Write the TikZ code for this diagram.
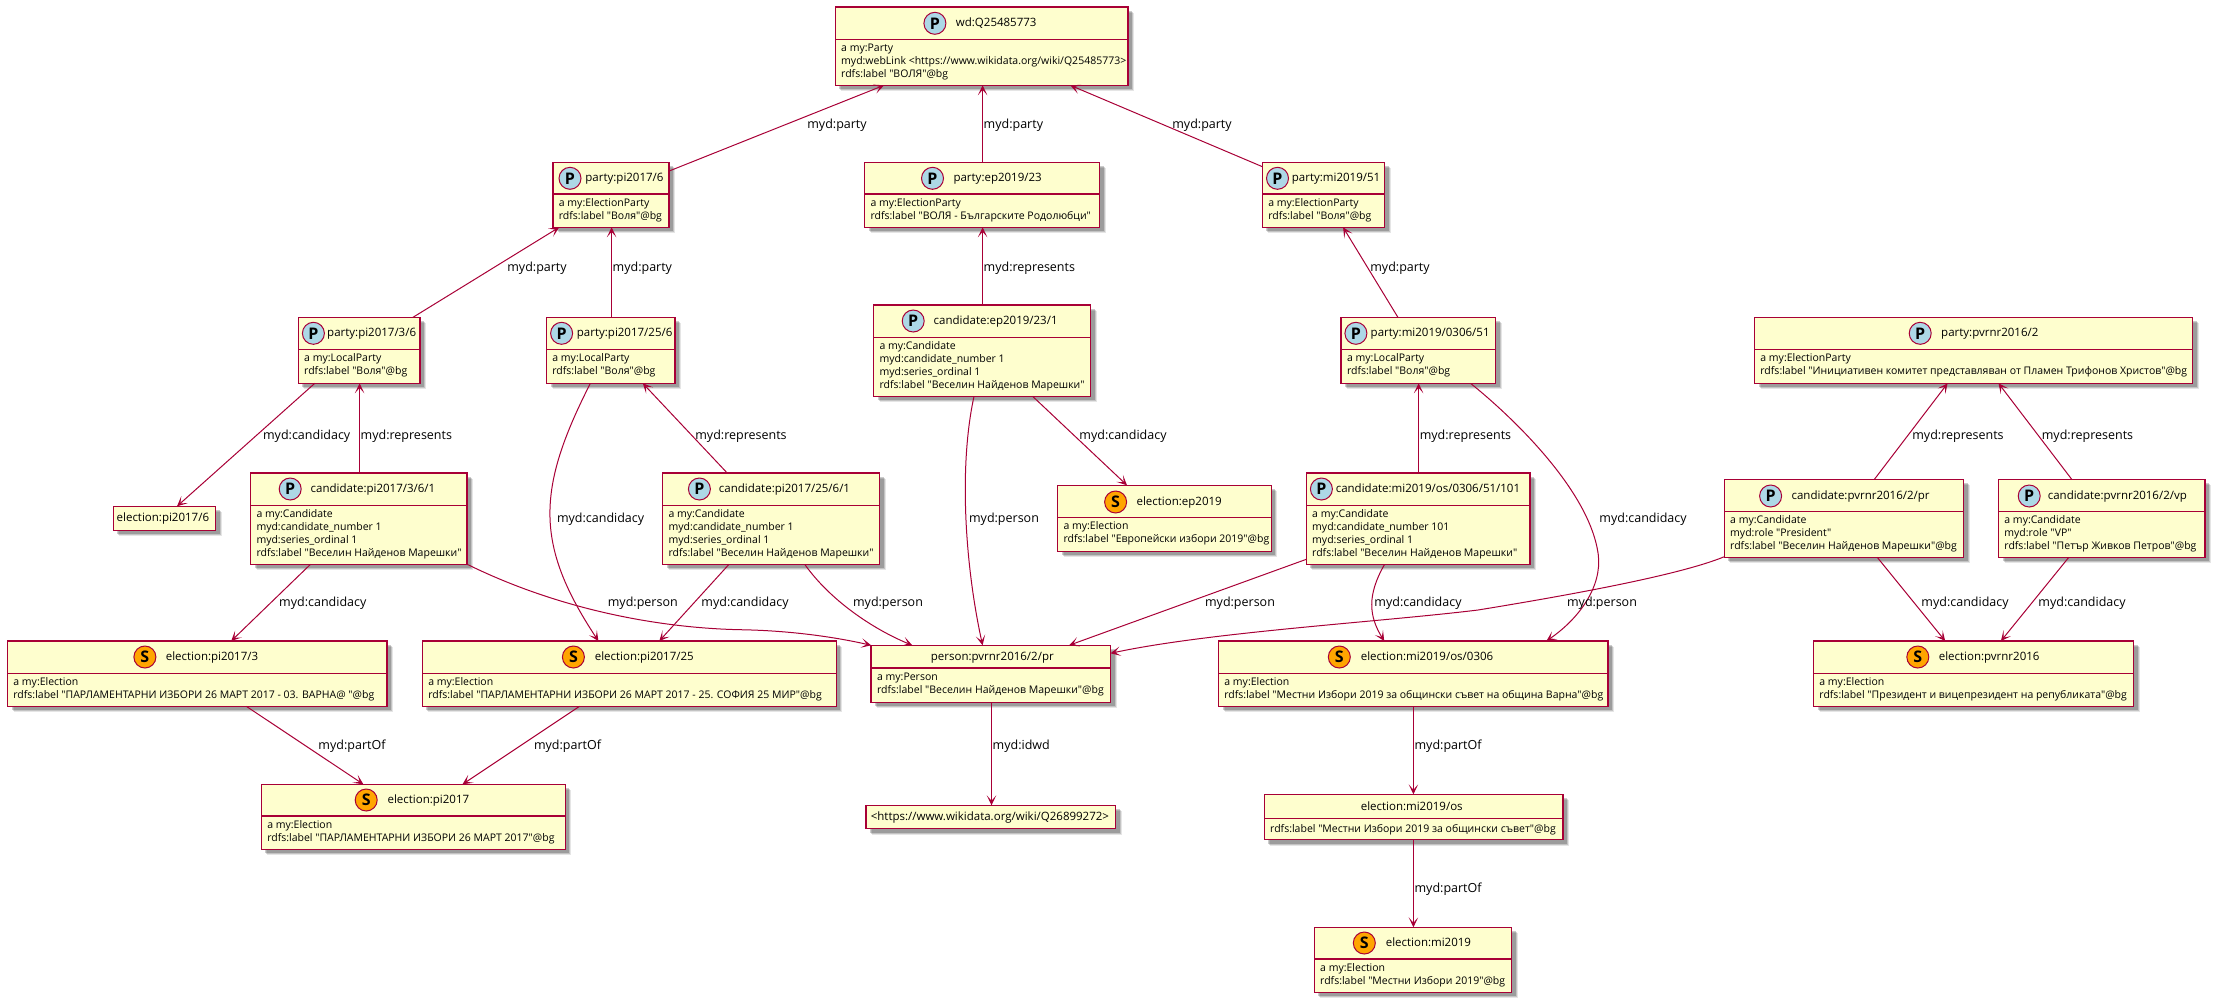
\documentclass[tikz,border=0pt]{standalone}
\usepackage{fontspec}
\setmainfont[Ligatures=TeXOff]{Open Sans}
\usetikzlibrary{arrows.meta, fit, shadows}

\definecolor{edgered}{HTML}{A80036}
\definecolor{boxfill}{HTML}{FEFECE}
\definecolor{spotblue}{HTML}{ADD8E6}
\definecolor{spotorange}{HTML}{FFA500}

\tikzset{
  classbox/.style={draw=edgered, fill=boxfill, line width=1.5pt, inner sep=0pt, outer sep=0pt,
    drop shadow={shadow xshift=6pt, shadow yshift=-6pt, draw=none, fill=black, opacity=0.1},
    drop shadow={shadow xshift=5pt, shadow yshift=-5pt, draw=none, fill=black, opacity=0.15},
    drop shadow={shadow xshift=4pt, shadow yshift=-4pt, draw=none, fill=black, opacity=0.2}},
  classrule/.style={draw=edgered, line width=1.5pt},
  spotp/.style={circle, draw=edgered, line width=1pt, fill=spotblue, minimum size=22pt, inner sep=0pt, font=\fontsize{16}{16}\selectfont\bfseries},
  spots/.style={spotp, fill=spotorange},
  classname/.style={anchor=west, inner sep=0pt, text height=7.5pt, text depth=0.5pt, font=\fontsize{11.5}{13}\selectfont},
  classbody/.style={anchor=north west, inner sep=0pt, align=left, font=\fontsize{10.5}{13}\selectfont, execute at begin node=\strut},
  link/.style={draw=edgered, line width=1pt, -{Stealth[length=10pt, width=9.5pt, inset=5.5pt]}},
  linklabel/.style={inner sep=0pt, text height=8pt, text depth=0pt, font=\fontsize{12.5}{13}\selectfont},
}

\begin{document}
\begin{tikzpicture}[x=1pt, y=-1pt]
\useasboundingbox (0,0) rectangle (2218,1005);

\node[classbox, fit={(835.3,7) (1128,85.3)}] (wd) {};
\draw[classrule] (wd.west |- 0,39.3) -- (wd.east |- 0,39.3);
\node[spotp] (wdspot) at (934.9,23.3) {P};
\node[classname] (wdname) at (955.7,23.3) {wd:Q25485773};
\node[classbody] (wdbody) at (841,43.7) {a my:Party\\myd:webLink <https://www.wikidata.org/wiki/Q25485773>\\rdfs:label "ВОЛЯ"@bg};

\node[classbox, fit={(553,162.3) (669.2,227.3)}] (pi6) {};
\draw[classrule] (pi6.west |- 0,194) -- (pi6.east |- 0,194);
\node[spotp] (pi6spot) at (570,178.3) {P};
\node[classname] (pi6name) at (585.2,178.3) {party:pi2017/6};
\node[classbody] (pi6body) at (558.7,198.4) {a my:ElectionParty\\rdfs:label "Воля"@bg};

\node[classbox, fit={(864.6,162.3) (1099.6,227.3)}] (ep23) {};
\draw[classrule] (ep23.west |- 0,194) -- (ep23.east |- 0,194);
\node[spotp] (ep23spot) at (932.5,178.3) {P};
\node[classname] (ep23name) at (953.3,178.3) {party:ep2019/23};
\node[classbody] (ep23body) at (870.3,198.4) {a my:ElectionParty\\rdfs:label "ВОЛЯ - Българските Родолюбци"};

\node[classbox, fit={(1262.4,162.3) (1384.6,227.3)}] (mi51) {};
\draw[classrule] (mi51.west |- 0,194) -- (mi51.east |- 0,194);
\node[spotp] (mi51spot) at (1277.5,178.3) {P};
\node[classname] (mi51name) at (1291.7,178.3) {party:mi2019/51};
\node[classbody] (mi51body) at (1268.1,198.4) {a my:ElectionParty\\rdfs:label "Воля"@bg};

\node[classbox, fit={(298.3,317.3) (420,383.3)}] (pi36) {};
\draw[classrule] (pi36.west |- 0,349.3) -- (pi36.east |- 0,349.3);
\node[spotp] (pi36spot) at (313.4,333.3) {P};
\node[classname] (pi36name) at (327,333.3) {party:pi2017/3/6};
\node[classbody] (pi36body) at (304,353.7) {a my:LocalParty\\rdfs:label "Воля"@bg};

\node[classbox, fit={(546.5,317.3) (674.8,383.3)}] (pi256) {};
\draw[classrule] (pi256.west |- 0,349.3) -- (pi256.east |- 0,349.3);
\node[spotp] (pi256spot) at (561.6,333.3) {P};
\node[classname] (pi256name) at (576.7,333.3) {party:pi2017/25/6};
\node[classbody] (pi256body) at (552.2,353.7) {a my:LocalParty\\rdfs:label "Воля"@bg};

\node[classbox, fit={(1341.2,317.3) (1495.5,383.3)}] (mi0306) {};
\draw[classrule] (mi0306.west |- 0,349.3) -- (mi0306.east |- 0,349.3);
\node[spotp] (mi0306spot) at (1355.9,333.3) {P};
\node[classname] (mi0306name) at (1370.5,333.3) {party:mi2019/0306/51};
\node[classbody] (mi0306body) at (1346.9,353.7) {a my:LocalParty\\rdfs:label "Воля"@bg};

\node[classbox, fit={(1754.5,317.3) (2192.5,383.3)}] (pvr2) {};
\draw[classrule] (pvr2.west |- 0,349.3) -- (pvr2.east |- 0,349.3);
\node[spotp] (pvr2spot) at (1920.2,333.3) {P};
\node[classname] (pvr2name) at (1941,333.3) {party:pvrnr2016/2};
\node[classbody] (pvr2body) at (1760.2,353.7) {a my:ElectionParty\\rdfs:label "Инициативен комитет представляван от Пламен Трифонов Христов"@bg};

\node[classbox, fit={(873.6,305) (1090.6,396.3)}] (candep) {};
\draw[classrule] (candep.west |- 0,337.3) -- (candep.east |- 0,337.3);
\node[spotp] (candepspot) at (913.2,321) {P};
\node[classname] (candepname) at (933.5,321) {candidate:ep2019/23/1};
\node[classbody] (candepbody) at (879.3,341.7) {a my:Candidate\\myd:candidate\_number 1\\myd:series\_ordinal 1\\rdfs:label "Веселин Найденов Марешки"};

\node[classbox, fit={(250.6,473) (467.2,564.3)}] (candpi36) {};
\draw[classrule] (candpi36.west |- 0,505.3) -- (candpi36.east |- 0,505.3);
\node[spotp] (candpi36spot) at (290.2,489) {P};
\node[classname] (candpi36name) at (310.5,489) {candidate:pi2017/3/6/1};
\node[classbody] (candpi36body) at (256.3,509.7) {a my:Candidate\\myd:candidate\_number 1\\myd:series\_ordinal 1\\rdfs:label "Веселин Найденов Марешки"};

\node[classbox, fit={(662.6,473) (879.7,564.3)}] (candpi256) {};
\draw[classrule] (candpi256.west |- 0,505.3) -- (candpi256.east |- 0,505.3);
\node[spotp] (candpi256spot) at (699.4,489) {P};
\node[classname] (candpi256name) at (718.7,489) {candidate:pi2017/25/6/1};
\node[classbody] (candpi256body) at (668.3,509.7) {a my:Candidate\\myd:candidate\_number 1\\myd:series\_ordinal 1\\rdfs:label "Веселин Найденов Марешки"};

\node[classbox, fit={(1306.3,473) (1530,564.3)}] (candmi) {};
\draw[classrule] (candmi.west |- 0,505.3) -- (candmi.east |- 0,505.3);
\node[spotp] (candmispot) at (1321.4,489) {P};
\node[classname] (candminame) at (1335.6,489) {candidate:mi2019/os/0306/51/101};
\node[classbody] (candmibody) at (1312,509.7) {a my:Candidate\\myd:candidate\_number 101\\myd:series\_ordinal 1\\rdfs:label "Веселин Найденов Марешки"};

\node[classbox, fit={(113.3,506.3) (215.7,530.3)}] (elpi6) {};
\node[classname] (elpi6name) at (116.5,518.3) {election:pi2017/6};

\node[classbox, fit={(1057.6,485.3) (1271.4,551.3)}] (elep) {};
\draw[classrule] (elep.west |- 0,517.3) -- (elep.east |- 0,517.3);
\node[spots] (elepspot) at (1115.6,502) {S};
\node[classname] (elepname) at (1136.4,502) {election:ep2019};
\node[classbody] (elepbody) at (1063.3,521.7) {a my:Election\\rdfs:label "Европейски избори 2019"@bg};

\node[classbox, fit={(1724.3,479.3) (1963.6,557.3)}] (pr) {};
\draw[classrule] (pr.west |- 0,511.3) -- (pr.east |- 0,511.3);
\node[spotp] (prspot) at (1770.6,496) {P};
\node[classname] (prname) at (1791.4,496) {candidate:pvrnr2016/2/pr};
\node[classbody] (prbody) at (1730,515.7) {a my:Candidate\\myd:role "President"\\rdfs:label "Веселин Найденов Марешки"@bg};

\node[classbox, fit={(1998.5,479.3) (2205.2,557.3)}] (vp) {};
\draw[classrule] (vp.west |- 0,511.3) -- (vp.east |- 0,511.3);
\node[spotp] (vpspot) at (2029.2,496) {P};
\node[classname] (vpname) at (2047.6,496) {candidate:pvrnr2016/2/vp};
\node[classbody] (vpbody) at (2004.2,515.7) {a my:Candidate\\myd:role "VP"\\rdfs:label "Петър Живков Петров"@bg};

\node[classbox, fit={(7.5,641) (387,706.3)}] (elpi3) {};
\draw[classrule] (elpi3.west |- 0,673.3) -- (elpi3.east |- 0,673.3);
\node[spots] (elpi3spot) at (144.9,657) {S};
\node[classname] (elpi3name) at (165.6,657) {election:pi2017/3};
\node[classbody] (elpi3body) at (13.2,677.7) {a my:Election\\rdfs:label "ПАРЛАМЕНТАРНИ ИЗБОРИ 26 МАРТ 2017 - 03. ВАРНА@ "@bg};

\node[classbox, fit={(422.4,641) (836.3,706.3)}] (elpi25) {};
\draw[classrule] (elpi25.west |- 0,673.3) -- (elpi25.east |- 0,673.3);
\node[spots] (elpi25spot) at (573.4,657) {S};
\node[classname] (elpi25name) at (594.6,657) {election:pi2017/25};
\node[classbody] (elpi25body) at (428.1,677.7) {a my:Election\\rdfs:label "ПАРЛАМЕНТАРНИ ИЗБОРИ 26 МАРТ 2017 - 25. СОФИЯ 25 МИР"@bg};

\node[classbox, fit={(871.2,645.3) (1110.5,702.3)}] (person) {};
\draw[classrule] (person.west |- 0,668) -- (person.east |- 0,668);
\node[classname] (personname) at (930.7,657.3) {person:pvrnr2016/2/pr};
\node[classbody] (personbody) at (876.9,672.4) {a my:Person\\rdfs:label "Веселин Найденов Марешки"@bg};

\node[classbox, fit={(1218.5,641) (1608.2,706.3)}] (el0306) {};
\draw[classrule] (el0306.west |- 0,673.3) -- (el0306.east |- 0,673.3);
\node[spots] (el0306spot) at (1339.3,657) {S};
\node[classname] (el0306name) at (1360.6,657) {election:mi2019/os/0306};
\node[classbody] (el0306body) at (1224.2,677.7) {a my:Election\\rdfs:label "Местни Избори 2019 за общински съвет на община Варна"@bg};

\node[classbox, fit={(1813.5,641) (2133.5,706.3)}] (elpvr) {};
\draw[classrule] (elpvr.west |- 0,673.3) -- (elpvr.east |- 0,673.3);
\node[spots] (elpvrspot) at (1917.8,657) {S};
\node[classname] (elpvrname) at (1938.6,657) {election:pvrnr2016};
\node[classbody] (elpvrbody) at (1819.2,677.7) {a my:Election\\rdfs:label "Президент и вицепрезидент на републиката"@bg};

\node[classbox, fit={(261.4,784.3) (565.4,849.3)}] (elpi) {};
\draw[classrule] (elpi.west |- 0,816) -- (elpi.east |- 0,816);
\node[spots] (elpispot) at (366.2,800) {S};
\node[classname] (elpiname) at (387.4,800) {election:pi2017};
\node[classbody] (elpibody) at (267.1,820.4) {a my:Election\\rdfs:label "ПАРЛАМЕНТАРНИ ИЗБОРИ 26 МАРТ 2017"@bg};

\node[classbox, fit={(866,805.3) (1115.6,828.7)}] (wiki) {};
\node[classname] (wikiname) at (870.6,817) {<https://www.wikidata.org/wiki/Q26899272>};

\node[classbox, fit={(1264.3,794.3) (1563,839.7)}] (elos) {};
\draw[classrule] (elos.west |- 0,818.3) -- (elos.east |- 0,818.3);
\node[classname] (elosname) at (1360.6,807) {election:mi2019/os};
\node[classbody] (elosbody) at (1270,822.7) {rdfs:label "Местни Избори 2019 за общински съвет"@bg};

\node[classbox, fit={(1314.3,927.3) (1511.5,992.3)}] (elmi) {};
\draw[classrule] (elmi.west |- 0,959) -- (elmi.east |- 0,959);
\node[spots] (elmispot) at (1364.3,943) {S};
\node[classname] (elminame) at (1385.6,943) {election:mi2019};
\node[classbody] (elmibody) at (1320,963.4) {a my:Election\\rdfs:label "Местни Избори 2019"@bg};

\draw[link] (pi6.east |- 0,171) -- (wd.south -| 884,0);
\draw[link] (ep23.north -| 982.6,0) -- (wd.south -| 982.6,0);
\draw[link] (mi51.west |- 0,166.7) -- (wd.south -| 1070.3,0);
\draw[link] (pi36.north -| 413,0) -- (pi6.south -| 559.2,0);
\draw[link] (pi256.north -| 611.6,0) -- (pi6.south -| 611.6,0);
\draw[link] (candep.north -| 982.6,0) -- (ep23.south -| 982.6,0);
\draw[link] (mi0306.north -| 1397.9,0) -- (mi51.south -| 1343.1,0);
\draw[link] (pi36.south -| 314.8,0) -- (elpi6.north -| 177,0);
\draw[link] (candpi36.north -| 359.6,0) -- (pi36.south -| 359.6,0);
\draw[link] (pi256.south -| 590.4,0) .. controls (536,490) and (535,545) .. (elpi25.north -| 598.4,0);
\draw[link] (candpi256.north -| 727.2,0) -- (pi256.south -| 642.8,0);
\draw[link] (candep.south -| 974,0) .. controls (958,470) and (966,570) .. (person.north -| 982.6,0);
\draw[link] (candep.south -| 1032.6,0) -- (elep.north -| 1127,0);
\draw[link] (candmi.north -| 1418.6,0) -- (mi0306.south -| 1418.6,0);
\draw[link] (mi0306.south -| 1470.5,0) .. controls (1510,415) and (1590,490) .. (1598.3,555) .. controls (1602,586) and (1580,618) .. (el0306.north -| 1546.4,0);
\draw[link] (pr.north -| 1874.4,0) -- (pvr2.south -| 1947.6,0);
\draw[link] (vp.north -| 2071.7,0) -- (pvr2.south -| 1998.5,0);
\draw[link] (candpi36.south -| 310.5,0) -- (elpi3.north -| 231.2,0);
\draw[link] (candpi36.south east) .. controls (560,610) and (660,628) .. (740,629.7) .. controls (790,630.5) and (835,637) .. (person.north west);
\draw[link] (candpi256.south -| 729,0) -- (elpi25.north -| 659.3,0);
\draw[link] (candpi256.south -| 804.7,0) .. controls (830,600) and (872,628.6) .. (person.north -| 912.3,0);
\draw[link] (candmi.west |- 0,559.3) -- (person.north -| 1069,0);
\draw[link] (candmi.south -| 1384.6,0) .. controls (1367,595) and (1368.7,616) .. (el0306.north -| 1384.2,0);
\draw[link] (pr.west |- 0,556.7) .. controls (1680,575) and (1570,595) .. (1478,610) .. controls (1380,622) and (1210,632) .. (person.east |- 0,653.3);
\draw[link] (pr.south -| 1877.2,0) -- (elpvr.north -| 1945.2,0);
\draw[link] (vp.south -| 2068.8,0) -- (elpvr.north -| 2000.9,0);
\draw[link] (elpi3.south -| 246.3,0) -- (elpi.north -| 363.4,0);
\draw[link] (elpi25.south -| 579.5,0) -- (elpi.north -| 462.5,0);
\draw[link] (person.south -| 991.5,0) -- (wiki.north -| 991.5,0);
\draw[link] (el0306.south -| 1413.4,0) -- (elos.north -| 1413.4,0);
\draw[link] (elos.south -| 1413.4,0) -- (elmi.north -| 1413.4,0);

\node[linklabel] (lab1) at (837,124) {myd:party};
\node[linklabel, anchor=west] (lab2) at (983.5,124) {myd:party};
\node[linklabel] (lab3) at (1202,124) {myd:party};
\node[linklabel] (lab4) at (537,267) {myd:party};
\node[linklabel, anchor=west] (lab5) at (612.5,267) {myd:party};
\node[linklabel, anchor=west] (lab6) at (983.5,267) {myd:represents};
\node[linklabel] (lab7) at (1400,267) {myd:party};
\node[linklabel] (lab8) at (306.7,435) {myd:candidacy};
\node[linklabel, anchor=west] (lab9) at (360.5,435) {myd:represents};
\node[linklabel] (lab10) at (600.6,518.7) {myd:candidacy};
\node[linklabel] (lab11) at (741,435) {myd:represents};
\node[linklabel] (lab12) at (1004,518.7) {myd:person};
\node[linklabel] (lab13) at (1123,435) {myd:candidacy};
\node[linklabel, anchor=west] (lab14) at (1419.6,435) {myd:represents};
\node[linklabel] (lab15) at (1643,518.7) {myd:candidacy};
\node[linklabel] (lab16) at (1958,435) {myd:represents};
\node[linklabel] (lab17) at (2087.5,435) {myd:represents};
\node[linklabel] (lab18) at (322.8,602.7) {myd:candidacy};
\node[linklabel] (lab19) at (642.8,602.7) {myd:person};
\node[linklabel] (lab20) at (745,602.7) {myd:candidacy};
\node[linklabel] (lab21) at (888,602.7) {myd:person};
\node[linklabel] (lab22) at (1240,602.7) {myd:person};
\node[linklabel] (lab23) at (1418,602.7) {myd:candidacy};
\node[linklabel] (lab24) at (1602,602.7) {myd:person};
\node[linklabel] (lab25) at (1965,602.7) {myd:candidacy};
\node[linklabel] (lab26) at (2082,602.7) {myd:candidacy};
\node[linklabel] (lab27) at (352,745.7) {myd:partOf};
\node[linklabel] (lab28) at (567.5,745.7) {myd:partOf};
\node[linklabel, anchor=west] (lab29) at (992.5,745.7) {myd:idwd};
\node[linklabel, anchor=west] (lab30) at (1414.4,745.7) {myd:partOf};
\node[linklabel, anchor=west] (lab31) at (1414.4,888.3) {myd:partOf};
\end{tikzpicture}
\end{document}
